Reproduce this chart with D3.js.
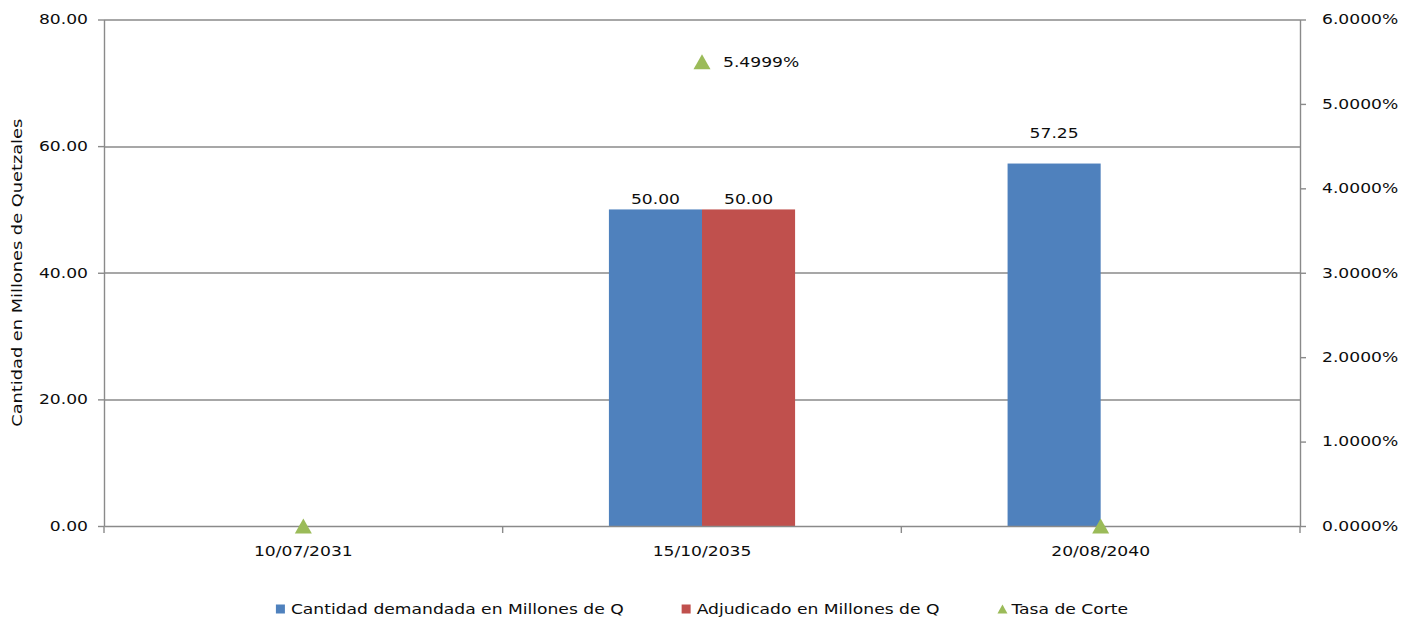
<!DOCTYPE html>
<html>
<head>
<meta charset="utf-8">
<script src="https://cdn.jsdelivr.net/npm/d3@7"></script>
<style>
  html, body { margin: 0; padding: 0; background: #fff; }
  svg { display: block; }
  text { font-family: "DejaVu Sans", Verdana, sans-serif; fill: #0d0d0d; }
</style>
</head>
<body>
<svg id="chart"></svg>
<script>
// Data
const categories = ["10/07/2031", "15/10/2035", "20/08/2040"];
const demandada = [0, 50.00, 57.25];
const adjudicado = [0, 50.00, 0];
const tasaCorte = [0, 5.4999, 0];
const leftTicks = [0, 20, 40, 60, 80];
const rightTicks = [0, 1, 2, 3, 4, 5, 6];
const seriesNames = ["Cantidad demandada en Millones de Q", "Adjudicado en Millones de Q", "Tasa de Corte"];
const yTitle = "Cantidad en Millones de Quetzales";

const colors = { demandada: "#4f81bd", adjudicado: "#c0504d", tasa: "#9bbb59" };
const gridColor = "#8a8a8a";

// The picture is stretched sideways, so text gets the same stretch
const SX = 1.27;
const fontSize = 13.5;

const W = 1414, H = 621;
const margin = { top: 19.5, right: 114, bottom: 95, left: 104 };
const width = W - margin.left - margin.right;
const height = H - margin.top - margin.bottom;

const svg = d3.select("#chart").attr("width", W).attr("height", H);
const g = svg.append("g").attr("transform", `translate(${margin.left},${margin.top})`);

const x = d3.scaleBand().domain(categories).range([0, width]);
// two bars per category, about 47% of the band in total
const groupW = x.bandwidth() * 0.467;
const x1 = d3.scaleBand().domain(["demandada", "adjudicado"])
  .range([(x.bandwidth() - groupW) / 2, (x.bandwidth() + groupW) / 2]);
const y = d3.scaleLinear().domain([0, 80]).range([height, 0]);
const y2 = d3.scaleLinear().domain([0, 6]).range([height, 0]);

// helper for stretched text
function stretched(sel) {
  return sel.attr("transform", function () {
    const t = d3.select(this);
    const tx = +t.attr("x") || 0, ty = +t.attr("y") || 0;
    t.attr("x", 0).attr("y", 0);
    return `translate(${tx},${ty}) scale(${SX},1)`;
  });
}

// triangle centred on its box, like the Excel marker
const triangle = (w, h) => `M0,${-h / 2}L${w / 2},${h / 2}L${-w / 2},${h / 2}Z`;

// gridlines
g.append("g").selectAll("line")
  .data(leftTicks.filter(d => d > 0))
  .join("line")
  .attr("x1", 0).attr("x2", width)
  .attr("y1", d => Math.round(y(d)) + 0.5).attr("y2", d => Math.round(y(d)) + 0.5)
  .style("stroke", gridColor).style("stroke-width", 1.4);

// bars
const bars = g.append("g");
const barData = [];
categories.forEach((c, i) => {
  barData.push({ c, key: "demandada", v: demandada[i] });
  barData.push({ c, key: "adjudicado", v: adjudicado[i] });
});
bars.selectAll("rect")
  .data(barData.filter(d => d.v > 0))
  .join("rect")
  .attr("x", d => x(d.c) + x1(d.key))
  .attr("width", x1.bandwidth())
  .attr("y", d => y(d.v))
  .attr("height", d => y(0) - y(d.v))
  .style("fill", d => colors[d.key]);

// bar labels (the 57.25 label sits higher in the reference)
const labelLift = { "20/08/2040": 21 };
g.append("g").selectAll("text")
  .data(barData.filter(d => d.v > 0))
  .join("text")
  .attr("x", d => x(d.c) + x1(d.key) + x1.bandwidth() / 2)
  .attr("y", d => y(d.v) - 5 - (d.key === "demandada" ? (labelLift[d.c] || 0) : 0))
  .attr("text-anchor", "middle")
  .style("font-size", fontSize + "px")
  .text(d => d3.format(".2f")(d.v))
  .call(stretched);

// axes
const axisStyle = a => {
  a.selectAll("path, line").style("stroke", gridColor).style("stroke-width", 1.4);
  a.selectAll("text").style("font-size", fontSize + "px").style("font-family", null).attr("fill", null);
};

const yAxis = g.append("g")
  .call(d3.axisLeft(y).tickValues(leftTicks).tickFormat(d3.format(".2f")).tickSize(6).tickSizeOuter(0).tickPadding(10))
  .call(axisStyle);
yAxis.selectAll("text").call(stretched);

const yAxis2 = g.append("g")
  .attr("transform", `translate(${width},0)`)
  .call(d3.axisRight(y2).tickValues(rightTicks).tickFormat(d => d.toFixed(4) + "%").tickSize(6).tickSizeOuter(0).tickPadding(16))
  .call(axisStyle);
yAxis2.selectAll("text").call(stretched);

// category axis: ticks at the band edges, labels in the middle
const xAxis = g.append("g")
  .attr("transform", `translate(0,${height})`)
  .call(d3.axisBottom(x).tickSize(0).tickSizeOuter(0).tickPadding(20))
  .call(axisStyle);
xAxis.selectAll("text").call(stretched);
xAxis.append("g").selectAll("line")
  .data(categories.map(c => x(c)).concat([width]))
  .join("line")
  .attr("x1", d => d).attr("x2", d => d)
  .attr("y1", 0).attr("y2", 7)
  .style("stroke", gridColor).style("stroke-width", 1.4);

// Tasa de Corte markers
g.append("g").selectAll("path")
  .data(categories.map((c, i) => ({ c, v: tasaCorte[i] })))
  .join("path")
  .attr("d", triangle(17, 15))
  .attr("transform", d => `translate(${x(d.c) + x.bandwidth() / 2},${y2(d.v)})`)
  .style("fill", colors.tasa);

g.append("g").selectAll("text")
  .data(categories.map((c, i) => ({ c, v: tasaCorte[i] })).filter(d => d.v > 0))
  .join("text")
  .attr("x", d => x(d.c) + x.bandwidth() / 2 + 21)
  .attr("y", d => y2(d.v) + 5)
  .style("font-size", fontSize + "px")
  .text(d => d.v.toFixed(4) + "%")
  .call(stretched);

// y axis title
svg.append("text")
  .attr("transform", `translate(22,${margin.top + height / 2}) rotate(-90) scale(${SX},1)`)
  .attr("text-anchor", "middle")
  .style("font-size", "14px")
  .text(yTitle);

// legend
const legend = svg.append("g");
const keys = ["demandada", "adjudicado", "tasa"];
const gap = 58;
let cursor = 0;
keys.forEach((k, i) => {
  const item = legend.append("g").attr("transform", `translate(${cursor},0)`);
  if (k === "tasa") {
    item.append("path")
      .attr("d", triangle(10, 9))
      .attr("transform", "translate(5,0)")
      .style("fill", colors[k]);
  } else {
    item.append("rect")
      .attr("x", 0).attr("y", -4.5).attr("width", 9).attr("height", 9)
      .style("fill", colors[k]);
  }
  const pad = k === "tasa" ? 14 : 15;
  const t = item.append("text")
    .attr("x", pad)
    .attr("y", 5)
    .style("font-size", fontSize + "px")
    .text(seriesNames[i])
    .call(stretched);
  const tw = t.node().getComputedTextLength() * SX;
  cursor += pad + tw + gap;
});
const legendW = cursor - gap;
legend.attr("transform", `translate(${margin.left + width / 2 - legendW / 2},609)`);
</script>
</body>
</html>
